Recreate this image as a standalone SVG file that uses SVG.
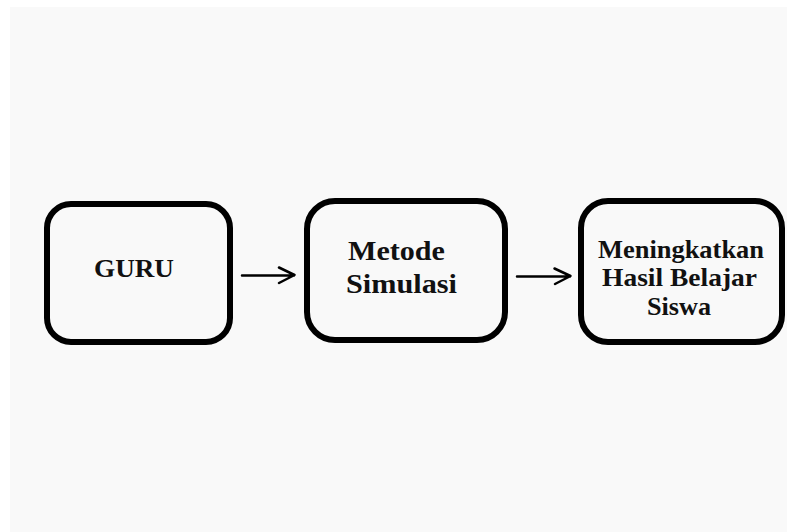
<svg xmlns="http://www.w3.org/2000/svg" width="787" height="532" viewBox="0 0 787 532">
<defs>
<style>
.box{fill:none;stroke:#000;stroke-width:6}
.lbl{font-family:"Liberation Serif","Times New Roman",serif;font-weight:bold;fill:#111;text-anchor:start}
.conn{fill:none;stroke:#000;stroke-width:2.5;stroke-linecap:round;stroke-linejoin:round}
</style>
</defs>
<rect x="0" y="0" width="787" height="532" fill="#ffffff"/>
<rect x="10" y="7" width="777" height="525" fill="#f9f9f9"/>
<g id="node-guru">
<rect class="box" x="47" y="204" width="183" height="138" rx="24"/>
<text class="lbl" x="94" y="277" font-size="26" textLength="80" lengthAdjust="spacingAndGlyphs">GURU</text>
</g>
<g id="node-metode">
<rect class="box" x="307" y="201" width="198" height="139" rx="28"/>
<text class="lbl" x="348" y="259.5" font-size="27" textLength="97" lengthAdjust="spacingAndGlyphs">Metode</text>
<text class="lbl" x="346" y="292.5" font-size="27" textLength="111" lengthAdjust="spacingAndGlyphs">Simulasi</text>
</g>
<g id="node-hasil">
<rect class="box" x="581" y="201" width="201" height="141" rx="27"/>
<text class="lbl" x="598" y="257.5" font-size="25" textLength="166" lengthAdjust="spacingAndGlyphs">Meningkatkan</text>
<text class="lbl" x="602" y="286" font-size="25" textLength="155" lengthAdjust="spacingAndGlyphs">Hasil Belajar</text>
<text class="lbl" x="647" y="315" font-size="25" textLength="64" lengthAdjust="spacingAndGlyphs">Siswa</text>
</g>
<g id="connectors">
<path class="conn" d="M242,275.5 L294,275.5 M279,267.5 L294.5,275 L279,283"/>
<path class="conn" d="M517,276.5 L570,276.5 M554.5,268.5 L570.5,276 L555,284"/>
</g>
</svg>
